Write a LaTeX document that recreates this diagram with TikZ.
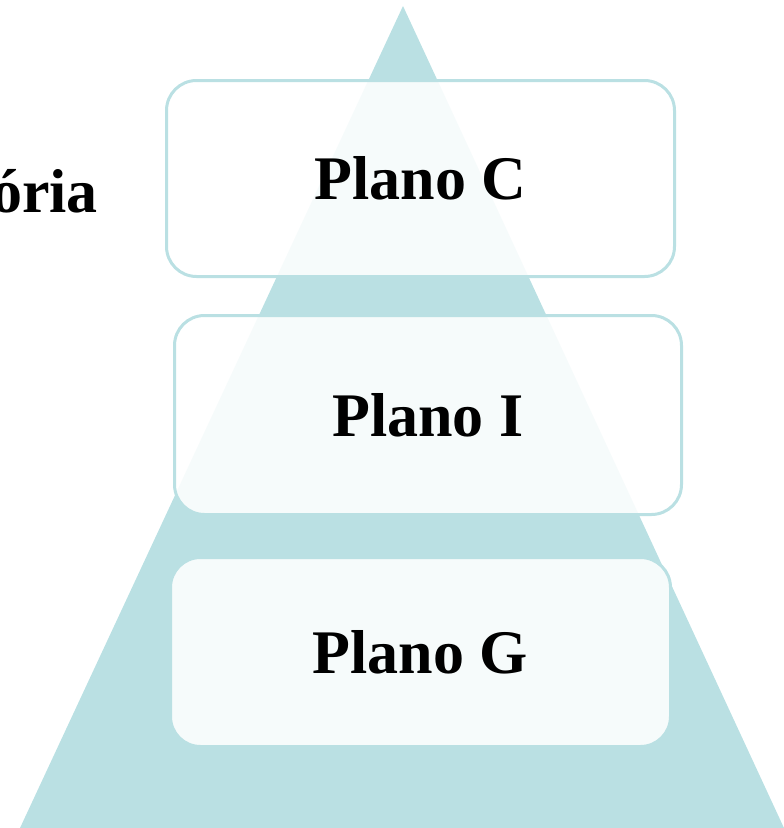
\documentclass[tikz,border=0pt]{standalone}
\usepackage{fontspec}
\setmainfont{Liberation Serif}
\usepackage{xcolor}
\definecolor{tealtri}{HTML}{BAE0E3}

\begin{document}
\begin{tikzpicture}[x=1pt,y=-1pt,
  plano/.style={rectangle, rounded corners=30pt, draw=tealtri, line width=3pt, fill=white, fill opacity=0.88, text opacity=1, inner sep=0pt, font=\fontsize{62}{70}\selectfont\bfseries}]
\useasboundingbox (0,0) rectangle (784,828);

% pyramid
\coordinate (apex) at (403,6);
\coordinate (baseL) at (20,828);
\coordinate (baseR) at (784,828);
\fill[tealtri] (apex) -- (baseL) -- (baseR) -- cycle;

\node[plano, minimum width=508pt, minimum height=196pt] (planoC) at (420.5,178.5) {Plano C};
\node[plano, minimum width=507pt, minimum height=199pt] (planoI) at (428,415) {Plano I};
\node[plano, minimum width=500pt, minimum height=189pt] (planoG) at (420.5,652) {Plano G};

\node[anchor=base east, inner sep=0pt, font=\fontsize{62}{70}\selectfont\bfseries] (rotulo) at (98,212) {ória};
\end{tikzpicture}
\end{document}
